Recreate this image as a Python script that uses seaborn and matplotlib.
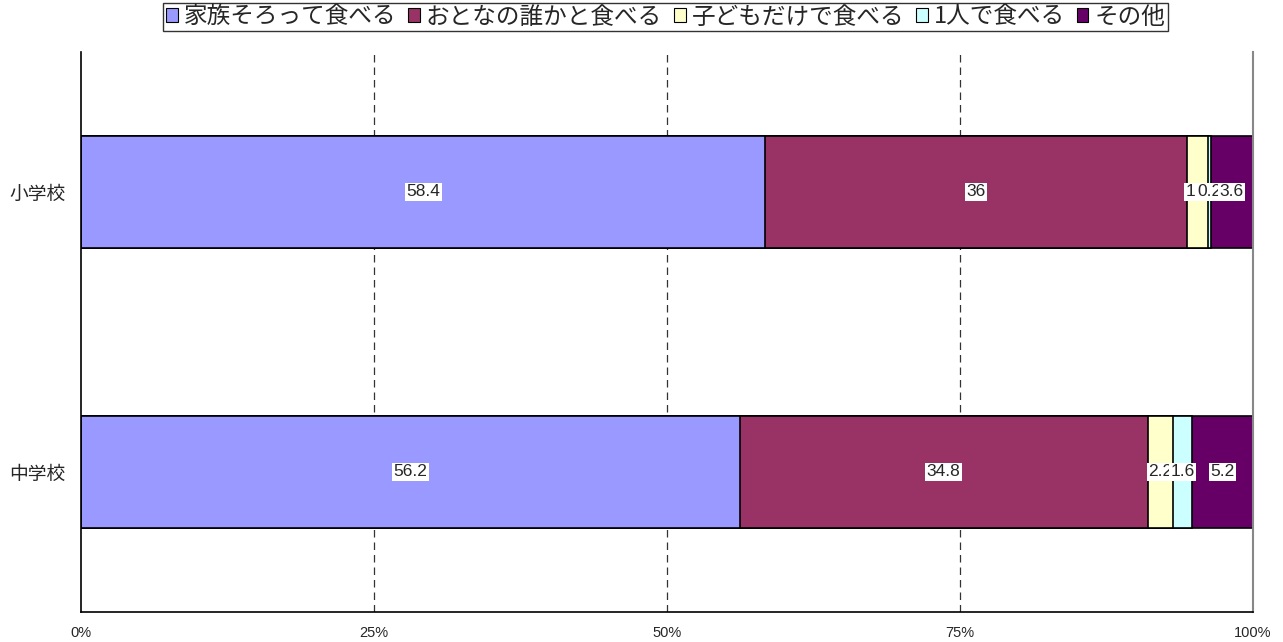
import numpy as np
import pandas as pd
import matplotlib
matplotlib.use("Agg")
import matplotlib.pyplot as plt
from matplotlib.patches import Patch
import seaborn as sns

# 食事の状況（%）
schools = ["小学校", "中学校"]
series = ["家族そろって食べる", "おとなの誰かと食べる", "子どもだけで食べる", "1人で食べる", "その他"]
family_all = [58.4, 56.2]
with_adult = [36.0, 34.8]
kids_only = [1.8, 2.2]
alone = [0.2, 1.6]
other = [3.6, 5.2]
x_ticks = [0, 25, 50, 75, 100]
x_tick_labels = ["0%", "25%", "50%", "75%", "100%"]
colors = ["#9999FF", "#993366", "#FFFFCC", "#CCFFFF", "#660066"]

sns.set_theme(style="white")
jp = ["Noto Sans CJK JP", "DejaVu Sans"]
num = ["Liberation Sans", "DejaVu Sans"]
plt.rcParams["font.family"] = jp

values = np.array([family_all, with_adult, kids_only, alone, other])
cum = np.cumsum(values, axis=0)

fig = plt.figure(figsize=(12.83, 6.42), dpi=100)
ax = fig.add_axes([81 / 1283, 1 - 612 / 642, 1172 / 1283, 560 / 642])

# stacked bars drawn as layered cumulative totals, outermost first
for i in range(len(series) - 1, -1, -1):
    df = pd.DataFrame({"school": schools, "value": cum[i]})
    sns.barplot(data=df, x="value", y="school", orient="h", color=colors[i],
                saturation=1, width=0.4, edgecolor="black", linewidth=1.2,
                ax=ax, zorder=2)

# segment value labels
for i in range(len(series)):
    for j in range(len(schools)):
        v = values[i, j]
        center = cum[i, j] - v / 2
        ax.text(center, j, f"{v:g}", ha="center", va="center", fontsize=12.5,
                family=num, zorder=5 + i,
                bbox=dict(boxstyle="square,pad=0.08", facecolor="white",
                          edgecolor="none"))

ax.set_xlim(0, 100)
ax.set_ylim(1.5, -0.5)
ax.set_xticks(x_ticks)
ax.set_xticklabels(x_tick_labels, family=num, fontsize=10.5)
ax.set_yticks(range(len(schools)))
ax.set_yticklabels(schools, fontsize=13.5)
ax.set_xlabel("")
ax.set_ylabel("")
ax.set_yticks([-0.5, 0.5, 1.5], minor=True)
ax.tick_params(axis="y", which="major", length=0, pad=11)
ax.tick_params(axis="y", which="minor", direction="in", length=5, color="black", width=1)
ax.tick_params(axis="x", which="major", direction="in", length=9, color="black",
               width=0.8, pad=10)

for x in x_ticks[1:-1]:
    ax.axvline(x, color="#333333", linestyle=(0, (6, 4)), linewidth=0.9, zorder=1)

for side in ["left", "bottom"]:
    ax.spines[side].set_color("black")
    ax.spines[side].set_linewidth(1.2)
ax.spines["right"].set_color("#888888")
ax.spines["right"].set_linewidth(1.5)
ax.spines["top"].set_visible(False)

handles = [Patch(facecolor=c, edgecolor="black", linewidth=0.8) for c in colors]
leg = fig.legend(handles, series, loc="upper center", bbox_to_anchor=(0.5187, 0.995),
                 ncol=5, frameon=True, fancybox=False, fontsize=17,
                 handlelength=0.5, handleheight=0.5, handletextpad=0.25,
                 columnspacing=0.5, borderpad=0.1, borderaxespad=0)
leg.get_frame().set_edgecolor("black")
leg.get_frame().set_linewidth(1.0)

fig.savefig("out.png", dpi=100)
